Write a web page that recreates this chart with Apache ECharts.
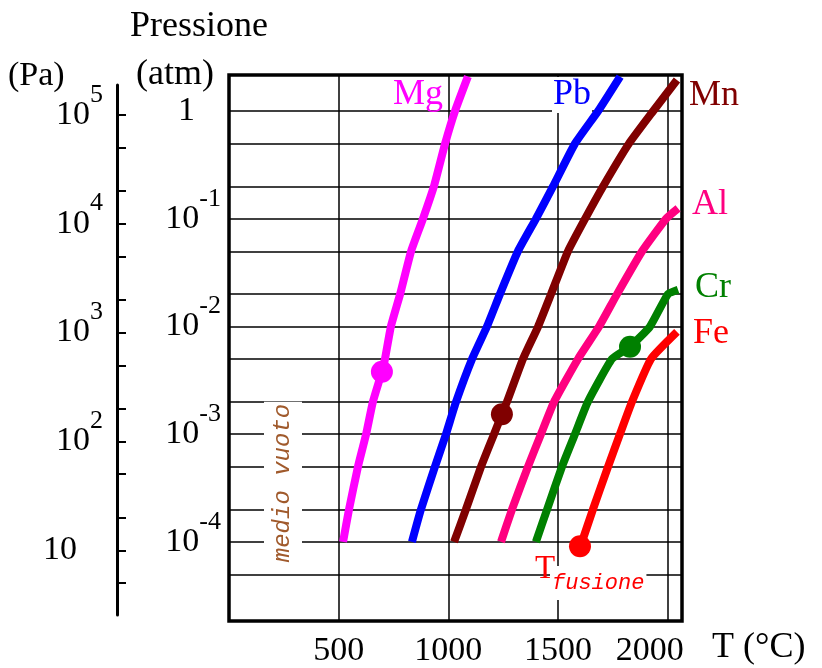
<!DOCTYPE html>
<html>
<head>
<meta charset="utf-8">
<script src="https://cdn.jsdelivr.net/npm/echarts@6/dist/echarts.min.js"></script>
<style>
    html, body { margin: 0; padding: 0; background: #fff; }
    #chart { width: 822px; height: 668px; }
</style>
</head>
<body>
<div id="chart"></div>
<script>
const serif = '"Liberation Serif", "Times New Roman", serif';
const mono = '"Liberation Mono", "Courier New", monospace';

// curve points: [T (°C), pressure (atm)]
const mg = [[520, 1e-4], [547, 2e-4], [588, 5e-4], [625, 1e-3], [656, 2e-3], [697, 3.8e-3], [711, 5e-3],
    [738, 1e-2], [780, 2e-2], [830, 5e-2], [884, 0.1], [934, 0.2], [985, 0.5], [1030, 1], [1089, 2.1]];
const pb = [[834, 1e-4], [875, 2e-4], [939, 5e-4], [989, 1e-3], [1035, 2e-3], [1108, 5e-3], [1176, 1e-2],
    [1235, 2e-2], [1317, 5e-2], [1399, 0.1], [1477, 0.2], [1577, 0.5], [1682, 1], [1783, 2.1]];
const mn = [[1026, 1e-4], [1080, 2e-4], [1149, 5e-4], [1208, 1e-3], [1244, 1.53e-3], [1267, 2e-3], [1340, 5e-3],
    [1409, 1e-2], [1468, 2e-2], [1545, 5e-2], [1623, 0.1], [1705, 0.2], [1823, 0.5], [1933, 1], [2042, 1.95]];
const al = [[1240, 1e-4], [1290, 2e-4], [1363, 5e-4], [1422, 1e-3], [1482, 2e-3], [1591, 5e-3], [1687, 1e-2],
    [1769, 2e-2], [1883, 5e-2], [1992, 0.1], [2047, 0.125]];
const cr = [[1399, 1e-4], [1450, 2e-4], [1518, 5e-4], [1577, 1e-3], [1636, 2e-3], [1746, 5e-3], [1828, 6.5e-3],
    [1919, 1e-2], [2001, 2e-2], [2047, 2.2e-2]];
const fe = [[1600, 9.1e-5], [1609, 1e-4], [1659, 2e-4], [1728, 5e-4], [1782, 1e-3], [1837, 2e-3], [1924, 5e-3],
    [2042, 8.9e-3]];

// melting points (T fusione)
const meltNames = ['Mg', 'Mn', 'Cr', 'Fe'];
const meltT = [697, 1244, 1828, 1600];
const meltP = [3.8e-3, 1.53e-3, 6.5e-3, 9.1e-5];

// axes
const yMin = 1.84e-5;
const yMax = 2.17;
const paMin = 2.55;
const paMax = 1.875e5;
const gridP = [5e-5, 1e-4, 2e-4, 5e-4, 1e-3, 2e-3, 5e-3, 1e-2, 2e-2, 5e-2, 0.1, 0.2, 0.5, 1];
const atmLabels = [1e-4, 1e-3, 1e-2, 0.1, 1];
const paTicks = [5, 10, 20, 50, 100, 200, 500, 1000, 2000, 5000, 1e4, 2e4, 5e4, 1e5];
const paLabels = [10, 100, 1e3, 1e4, 1e5];

const colors = { Mg: '#ff00ff', Pb: '#0000ff', Mn: '#800000', Al: '#ff0080', Cr: '#008000', Fe: '#ff0000' };
const curves = [['Mg', mg], ['Pb', pb], ['Mn', mn], ['Al', al], ['Cr', cr], ['Fe', fe]];

const chart = echarts.init(document.getElementById('chart'));

const powRich = {
    b: { fontFamily: serif, fontSize: 34, color: '#000' },
    e: { fontFamily: serif, fontSize: 26, color: '#000', padding: [0, 0, 40, 0] },
    sp: { fontFamily: serif, fontSize: 26, width: 26, padding: [0, 0, 40, 0] }
};

function expOf(v) { return Math.round(Math.log10(v)); }

function textEl(text, x, y, color, size, extra) {
    return Object.assign({
        type: 'text', x, y, z: 10, silent: true,
        style: { text, fill: color, font: size + 'px ' + serif, align: 'left', verticalAlign: 'middle' }
    }, extra || {});
}

const option = {
    animation: false,
    grid: [
        { left: 229, right: 140, top: 75, bottom: 40.5, show: true, borderColor: '#000', borderWidth: 3.5, backgroundColor: 'transparent' },
        // narrow grid that only carries the Pa scale
        { left: 117, width: 1, top: 85, bottom: 53 }
    ],
    xAxis: [
        {
            type: 'value', min: 0, max: 2065, interval: 500,
            name: 'T (°C)', nameLocation: 'end', nameGap: 30,
            nameTextStyle: { fontFamily: serif, fontSize: 36, color: '#000', verticalAlign: 'top', padding: [9, 0, 0, 0] },
            axisLine: { show: false }, axisTick: { show: false },
            splitLine: { show: true, lineStyle: { color: '#000', width: 1.5 } },
            axisLabel: {
                margin: 13,
                formatter: (v) => (v === 0 || v % 500) ? '' : (v === 2000 ? '{s|' + v + '}' : '{n|' + v + '}'),
                rich: {
                    n: { fontFamily: serif, fontSize: 34, color: '#000' },
                    s: { fontFamily: serif, fontSize: 34, color: '#000', padding: [0, 36, 0, 0] }
                }
            }
        },
        { type: 'value', gridIndex: 1, show: false, min: 0, max: 1 }
    ],
    yAxis: [
        {
            type: 'log', logBase: 10, min: yMin, max: yMax, position: 'left',
            axisLine: { show: false },
            axisTick: { show: false, customValues: gridP },
            splitLine: { show: true, lineStyle: { color: '#000', width: 1.5 } },
            axisLabel: {
                customValues: atmLabels, margin: 8,
                formatter: (v) => {
                    const e = expOf(v);
                    return e === 0 ? '{b|1}{sp| }' : '{b|10}{e|' + e + '}';
                },
                rich: powRich
            }
        },
        {
            type: 'log', logBase: 10, gridIndex: 1, min: paMin, max: paMax, position: 'left',
            axisLine: { show: true, lineStyle: { color: '#000', width: 3 } },
            axisTick: { show: true, inside: true, length: 9, lineStyle: { color: '#000', width: 2 }, customValues: paTicks },
            splitLine: { show: false },
            axisLabel: {
                customValues: paLabels, margin: 14,
                formatter: (v) => {
                    const e = expOf(v);
                    return e === 1 ? '{b|10}{sp| }' : '{b|10}{e|' + e + '}';
                },
                rich: powRich
            }
        }
    ],
    series: curves.map(([name, data]) => ({
        type: 'line', name, data, smooth: 0.15, showSymbol: false, silent: true, z: 3,
        lineStyle: { color: colors[name], width: 8 },
        itemStyle: { color: colors[name] }
    })).concat([{
        type: 'scatter', symbol: 'circle', symbolSize: 22, silent: true, z: 4,
        data: meltNames.map((n, i) => ({ value: [meltT[i], meltP[i]], itemStyle: { color: colors[n], opacity: 1 } }))
    }]),
    graphic: [
        textEl('Pressione', 130, 27, '#000', 36),
        textEl('(atm)', 136, 75, '#000', 36),
        textEl('(Pa)', 8, 76, '#000', 34),
        textEl('Mg', 393, 95, colors.Mg, 36),
        {
            type: 'text', x: 552, y: 95, z: 10, silent: true,
            style: { text: 'Pb', fill: colors.Pb, font: '36px ' + serif, align: 'left', verticalAlign: 'middle', backgroundColor: '#fff', padding: [0, 1] }
        },
        textEl('Mn', 689, 96, colors.Mn, 36),
        textEl('Al', 692, 205, colors.Al, 36),
        textEl('Cr', 695, 288, colors.Cr, 36),
        textEl('Fe', 693, 334, colors.Fe, 36),
        {
            type: 'text', x: 283, y: 483, rotation: Math.PI / 2, z: 10, silent: true,
            style: {
                text: 'medio vuoto', fill: '#a05a2c', font: 'italic 24px ' + mono,
                align: 'center', verticalAlign: 'middle', backgroundColor: '#fff', padding: [7, 2]
            }
        },
        textEl('T', 535, 569, colors.Fe, 33),
        {
            type: 'text', x: 550, y: 583, z: 10, silent: true,
            style: {
                text: 'fusione', fill: colors.Fe, font: 'italic 22px ' + mono,
                align: 'left', verticalAlign: 'middle', backgroundColor: '#fff', padding: [6, 2]
            }
        }
    ]
};

chart.setOption(option);
</script>
</body>
</html>
